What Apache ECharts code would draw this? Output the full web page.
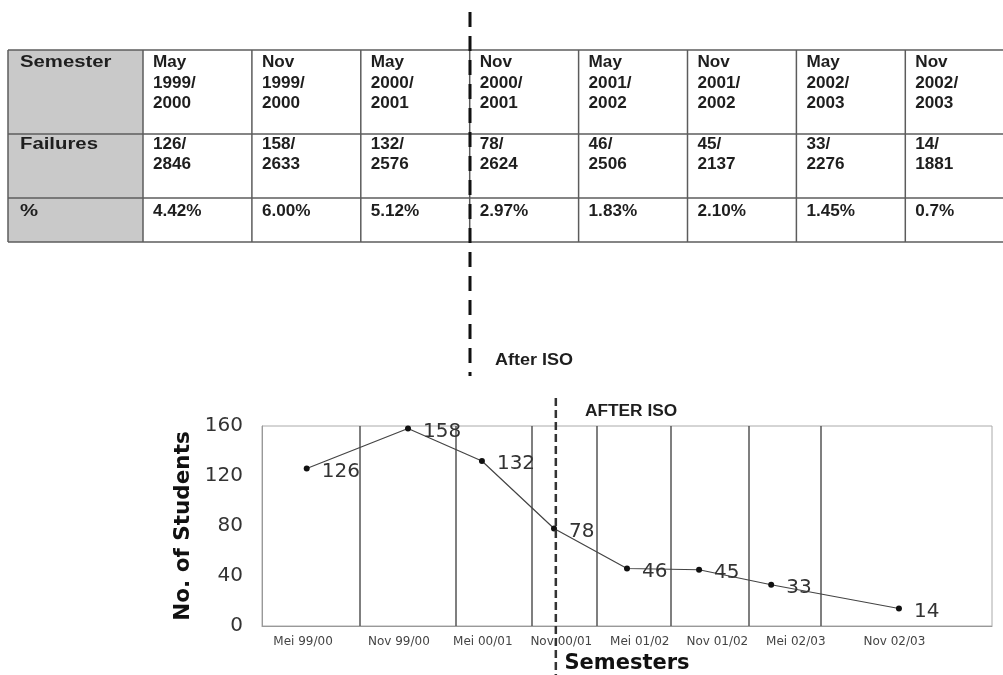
<!DOCTYPE html>
<html><head><meta charset="utf-8">
<script src="https://cdn.jsdelivr.net/npm/echarts@6/dist/echarts.min.js"></script>
<style>html,body{margin:0;padding:0;background:#fff}#c{width:1003px;height:675px}</style>
</head><body><div id="c"></div>
<script>
// ---- data ----
const semesterLabels = ['Mei 99/00','Nov 99/00','Mei 00/01','Nov 00/01','Mei 01/02','Nov 01/02','Mei 02/03','Nov 02/03'];
const failures = [126, 158, 132, 78, 46, 45, 33, 14];
const semesterPos = [0.49, 1.60, 2.41, 3.20, 4.00, 4.79, 5.58, 6.98];
const labelPos = [0.45, 1.50, 2.42, 3.28, 4.14, 4.99, 5.85, 6.93];
const dividerPos = [1.07, 2.12, 2.96, 3.67, 4.48, 5.33, 6.12];
const afterIsoPos = 3.22;
const tableRowHeads = ['Semester', 'Failures', '%'];
const tableSemesters = [['May','1999/','2000'],['Nov','1999/','2000'],['May','2000/','2001'],['Nov','2000/','2001'],
                        ['May','2001/','2002'],['Nov','2001/','2002'],['May','2002/','2003'],['Nov','2002/','2003']];
const tableTotals = [2846, 2633, 2576, 2624, 2506, 2137, 2276, 1881];
const tablePercents = ['4.42%','6.00%','5.12%','2.97%','1.83%','2.10%','1.45%','0.7%'];

// ---- table graphic ----
const TX = 8, TY = 50, HEADW = 135, COLW = 108.9;
const rowLines = [50, 134, 198, 242];
const FONT_HEAD = 'bold 16px "Liberation Sans", Arial, sans-serif';
const FONT_CELL = 'bold 16px "Liberation Sans", Arial, sans-serif';
const TXT = '#1e1e1e';
const els = [];
els.push({type:'rect', z:1, shape:{x:TX, y:TY, width:HEADW, height:rowLines[3]-TY}, style:{fill:'#c9c9c9'}});
rowLines.forEach(y => els.push({type:'line', z:2, shape:{x1:TX, y1:y, x2:1003, y2:y}, style:{stroke:'#5c5c5c', lineWidth:1.5}}));
const colX = [TX, TX + HEADW];
for (let i = 1; i < 8; i++) colX.push(TX + HEADW + i * COLW);
colX.forEach(x => els.push({type:'line', z:2, shape:{x1:x, y1:TY, x2:x, y2:rowLines[3]}, style:{stroke:'#5c5c5c', lineWidth:1.5}}));
function txt(s, x, y, font, sx) {
  els.push({type:'text', z:3, x:x, y:y, scaleX:sx, style:{text:s, font:font, fill:TXT, textAlign:'left', textVerticalAlign:'middle', align:'left', verticalAlign:'middle'}});
}
const rowTextY = [[63, 84, 104], [145, 165], [212]];
tableRowHeads.forEach((h, r) => txt(h, TX + 12, rowTextY[r][0], FONT_HEAD, 1.27));
for (let c = 0; c < 8; c++) {
  const x = TX + HEADW + c * COLW + 10;
  tableSemesters[c].forEach((s, k) => txt(s, x, rowTextY[0][k], FONT_CELL, 1.07));
  txt(failures[c] + '/', x, rowTextY[1][0], FONT_CELL, 1.07);
  txt(String(tableTotals[c]), x, rowTextY[1][1], FONT_CELL, 1.07);
  txt(tablePercents[c], x, rowTextY[2][0], FONT_CELL, 1.07);
}
// big dashed separator and caption
els.push({type:'line', z:10, shape:{x1:470, y1:12, x2:470, y2:376}, style:{stroke:'#111', lineWidth:3, lineDash:[15, 9]}});
els.push({type:'text', z:10, x:495, y:360, scaleX:1.06, style:{text:'After ISO', font:'bold 17px "Liberation Sans", Arial, sans-serif', fill:TXT, textVerticalAlign:'middle', verticalAlign:'middle'}});
els.push({type:'text', z:10, x:585, y:412, scaleX:1.08, style:{text:'AFTER ISO', font:'bold 16px "Liberation Sans", Arial, sans-serif', fill:TXT, textVerticalAlign:'middle', verticalAlign:'middle'}});

const chart = echarts.init(document.getElementById('c'), null, {renderer:'canvas'});
chart.setOption({
  animation: false,
  backgroundColor: '#fff',
  grid: {left:262, right:11, top:426, bottom:48, show:true, borderColor:'#aaa', borderWidth:1},
  xAxis: {
    type:'value', min:0, max:8,
    axisLine:{show:true, lineStyle:{color:'#999', width:1}},
    axisTick:{show:false}, splitLine:{show:false},
    axisLabel:{
      customValues: labelPos,
      formatter: function (v) {
        let best = 0;
        labelPos.forEach((p, i) => { if (Math.abs(p - v) < Math.abs(labelPos[best] - v)) best = i; });
        return semesterLabels[best];
      },
      fontSize:12, color:'#444', margin:10, fontFamily:'"DejaVu Sans", Verdana, sans-serif'
    },
    name:'Semesters', nameLocation:'middle', nameGap:27,
    nameTextStyle:{fontWeight:'bold', fontSize:21, color:'#111', fontFamily:'"DejaVu Sans", Verdana, sans-serif'}
  },
  yAxis: {
    type:'value', min:0, max:160, interval:40,
    axisLine:{show:true, lineStyle:{color:'#999', width:1}},
    axisTick:{show:false}, splitLine:{show:false},
    axisLabel:{fontSize:20, color:'#333', margin:19, fontFamily:'"DejaVu Sans", Verdana, sans-serif'},
    name:'No. of Students', nameLocation:'middle', nameGap:67, nameRotate:90,
    nameTextStyle:{fontWeight:'bold', fontSize:21.5, color:'#111', fontFamily:'"DejaVu Sans", Verdana, sans-serif'}
  },
  series: [{
    type:'line',
    data: failures.map((v, i) => [semesterPos[i], v]),
    symbol:'circle', symbolSize:6,
    itemStyle:{color:'#111'},
    lineStyle:{color:'#444', width:1.2},
    label:{show:true, position:'right', distance:12, offset:[0, 3], fontSize:20, color:'#333',
           fontFamily:'"DejaVu Sans", Verdana, sans-serif', formatter: p => p.value[1]},
    markLine:{
      silent:true, symbol:'none', label:{show:false}, z:1,
      lineStyle:{type:'solid', color:'#555', width:1.5},
      data: dividerPos.map(v => ({xAxis: v}))
    }
  }]
});
const isoX = chart.convertToPixel({xAxisIndex:0}, afterIsoPos);
els.push({type:'line', z:10, shape:{x1:isoX, y1:398, x2:isoX, y2:675}, style:{stroke:'#333', lineWidth:2.5, lineDash:[8, 4]}});
chart.setOption({graphic: {elements: els}});
</script>
</body></html>
